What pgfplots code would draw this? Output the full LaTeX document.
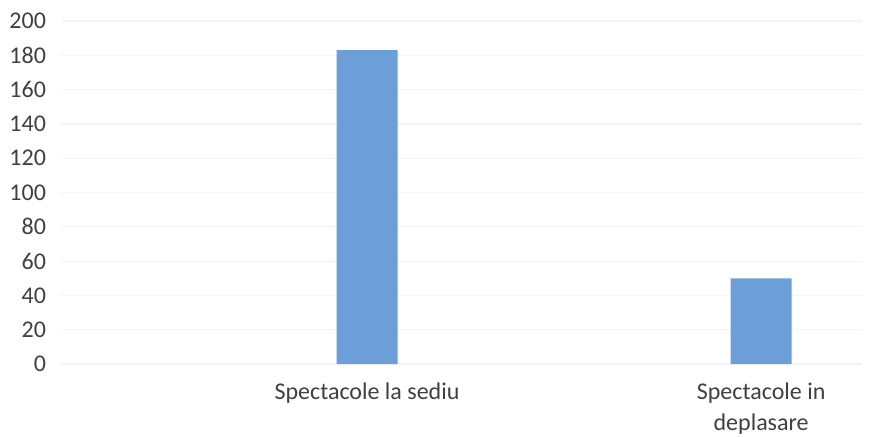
\documentclass[border=0pt]{standalone}
\usepackage{fontspec}
\setmainfont{Carlito}
\usepackage{pgfplots}
\pgfplotsset{compat=1.18}
\definecolor{barblue}{RGB}{108,158,215}
\definecolor{labgray}{RGB}{64,64,64}
\definecolor{gridgray}{RGB}{244,244,244}
\begin{document}
\begin{tikzpicture}
\begin{axis}[
    name=ax,
    scale only axis,
    width=400pt, height=171.5pt,
    xmin=-0.774, xmax=1.256,
    ymin=0, ymax=200,
    ytick={0,20,...,200},
    xtick={0,1},
    xticklabels={Spectacole la sediu, {Spectacole in\\deplasare}},
    axis line style={draw=none},
    major tick length=0pt,
    ymajorgrids,
    grid style={gridgray, line width=0.6pt},
    /pgf/number format/assume math mode=true,
    ticklabel style={font=\fontsize{12}{15.5}\selectfont, text=labgray},
    xticklabel style={align=center, yshift=-6pt},
    yticklabel style={xshift=-4.5pt},
]
\addplot[ybar, bar width=30.5pt, fill=barblue, draw=none] coordinates {(0,183) (1,50)};
\end{axis}
\pgfresetboundingbox
\path ([shift={(-31pt,-36pt)}]ax.south west) rectangle ([shift={(5pt,10.5pt)}]ax.north east);
\end{tikzpicture}
\end{document}
